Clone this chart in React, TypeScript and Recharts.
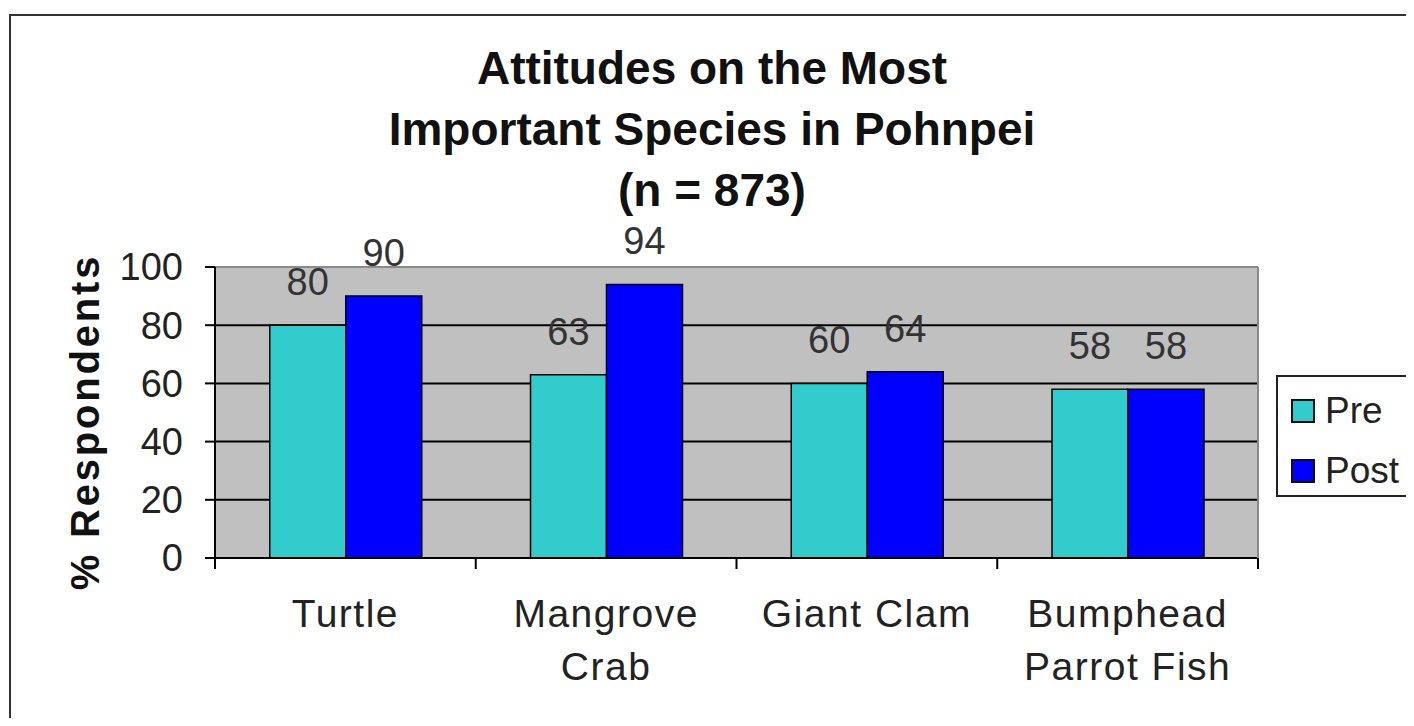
import React from 'react';
import {
  BarChart, Bar, XAxis, YAxis, CartesianGrid, Legend, LabelList, ReferenceLine,
} from 'recharts';

const categories = ['Turtle', 'Mangrove\nCrab', 'Giant Clam', 'Bumphead\nParrot Fish'];
const preValues = [80, 63, 60, 58];
const postValues = [90, 94, 64, 58];
const yTicks = [0, 20, 40, 60, 80, 100];
const titleLines = ['Attitudes on the Most', 'Important Species in Pohnpei', '(n = 873)'];

const rows = categories.map((name, i) => ({ name, pre: preValues[i], post: postValues[i] }));

const FONT = '"Liberation Sans", Arial, sans-serif';
const PRE = '#33CCCC';
const POST = '#0000FF';

// category label plus the tick marks at the band edges (Excel style)
const CategoryTick = ({ x, y, payload, index, visibleTicksCount }: {
  x?: number; y?: number; index?: number; visibleTicksCount?: number;
  payload?: { value: string; offset?: number };
}) => {
  const cx = x ?? 0;
  const cy = y ?? 0;
  const half = payload?.offset ?? 0;
  const lines = String(payload?.value ?? '').split('\n');
  const isLast = index === (visibleTicksCount ?? categories.length) - 1;
  return (
    <g>
      <line x1={cx - half} x2={cx - half} y1={cy} y2={cy + 11} stroke="#000" strokeWidth={2} />
      {isLast && <line x1={cx + half} x2={cx + half} y1={cy} y2={cy + 11} stroke="#000" strokeWidth={2} />}
      <text x={cx} y={cy + 69} textAnchor="middle" fontSize={39} fill="#222" fontFamily={FONT} letterSpacing={1.5}>
        {lines.map((l, i) => (
          <tspan key={i} x={cx} dy={i === 0 ? 0 : 53}>{l}</tspan>
        ))}
      </text>
    </g>
  );
};

const LegendBox = () => (
  <div style={{
    width: 132, height: 118, border: '2px solid #222', background: '#fff',
    fontFamily: FONT, fontSize: 37, color: '#222', boxSizing: 'content-box',
  }}>
    {[{ label: 'Pre', color: PRE }, { label: 'Post', color: POST }].map((it, i) => (
      <div key={it.label} style={{ display: 'flex', alignItems: 'center', height: 40, marginTop: i === 0 ? 14 : 20, marginLeft: 13 }}>
        <span style={{ width: 20, height: 20, background: it.color, border: '2px solid #111', display: 'inline-block' }} />
        <span style={{ marginLeft: 10 }}>{it.label}</span>
      </div>
    ))}
  </div>
);

export default function App() {
  return (
    <div style={{ position: 'relative', margin: -8, width: 1414, height: 726, overflow: 'hidden', background: '#fff' }}>
      <div style={{
        position: 'absolute', left: 9, top: 14, width: 1440, height: 740,
        border: '2px solid #333',
      }} />
      <div style={{
        position: 'absolute', left: 0, top: 38, width: 1424, textAlign: 'center',
        fontFamily: FONT, fontWeight: 'bold', fontSize: 46, lineHeight: '61px', color: '#111',
      }}>
        {titleLines.map((t) => <div key={t}>{t}</div>)}
      </div>
      <div style={{
        position: 'absolute', left: 85, top: 422, transform: 'translate(-50%, -50%) rotate(-90deg)',
        whiteSpace: 'nowrap', fontFamily: FONT, fontWeight: 'bold', fontSize: 40, letterSpacing: 2.8, color: '#111',
      }}>
        % Respondents
      </div>
      <div style={{ position: 'absolute', left: 0, top: 0 }}>
        <BarChart
          width={1414}
          height={726}
          data={rows}
          margin={{ top: 267, right: 155, bottom: 167, left: 135 }}
          barCategoryGap="21%"
          barGap={0}
        >
          <CartesianGrid vertical={false} stroke="#000" strokeWidth={2} fill="#C0C0C0" />
          <XAxis
            dataKey="name"
            height={1}
            tickLine={false}
            tickSize={0}
            tickMargin={0}
            axisLine={{ stroke: '#000', strokeWidth: 2 }}
            tick={<CategoryTick />}
            interval={0}
          />
          <YAxis
            width={80}
            domain={[0, 100]}
            ticks={yTicks}
            interval={0}
            tickSize={10}
            tickMargin={22}
            tickLine={{ stroke: '#000', strokeWidth: 2 }}
            axisLine={{ stroke: '#000', strokeWidth: 2 }}
            tick={{ fontSize: 38, fill: '#222', fontFamily: FONT }}
          />
          <YAxis
            yAxisId="frame"
            orientation="right"
            width={1}
            domain={[0, 100]}
            tick={false}
            tickLine={false}
            axisLine={{ stroke: '#8a8a8a', strokeWidth: 2 }}
          />
          <ReferenceLine y={100} stroke="#8a8a8a" strokeWidth={2} />
          <Legend
            layout="vertical"
            align="center"
            verticalAlign="middle"
            wrapperStyle={{ left: 1276, top: 375, width: 136 }}
            content={<LegendBox />}
          />
          <Bar dataKey="pre" name="Pre" fill={PRE} stroke="#000" strokeWidth={1.5} isAnimationActive={false}>
            <LabelList dataKey="pre" position="top" offset={30} fill="#333" fontSize={38} fontFamily={FONT} />
          </Bar>
          <Bar dataKey="post" name="Post" fill={POST} stroke="#000" strokeWidth={1.5} isAnimationActive={false}>
            <LabelList dataKey="post" position="top" offset={30} fill="#333" fontSize={38} fontFamily={FONT} />
          </Bar>
        </BarChart>
      </div>
    </div>
  );
}
